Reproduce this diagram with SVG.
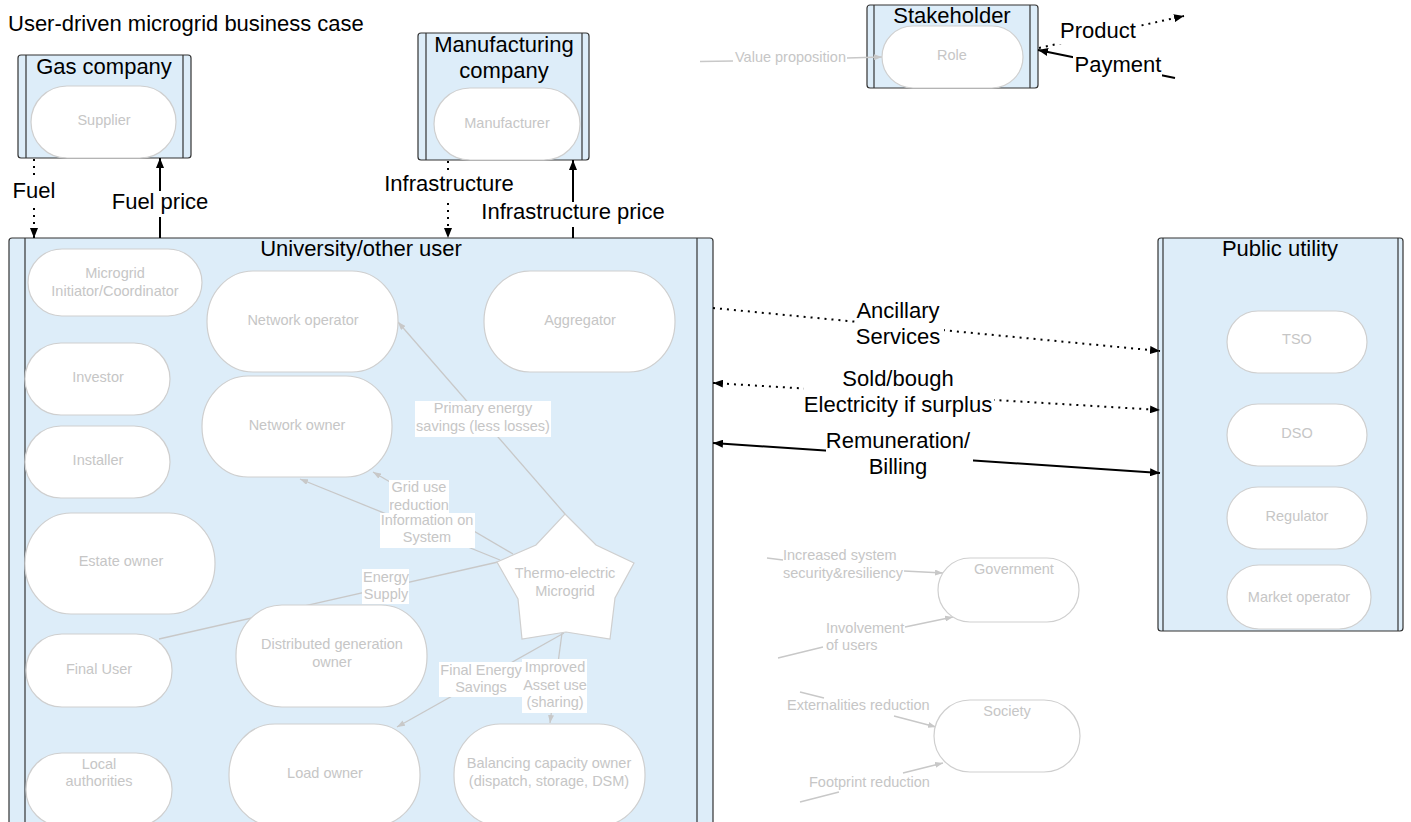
<svg xmlns="http://www.w3.org/2000/svg" width="1411" height="822" viewBox="0 0 1411 822">
<style>
.cont{fill:#ddedf9;stroke:#333;stroke-width:1.2}
.inl{stroke:#333;stroke-width:1.2}
.pill{fill:#fff;stroke:#cfcfcf;stroke-width:1.2}
.big{font-family:"Liberation Sans",Arial,sans-serif;font-size:22px;fill:#000}
.gt{font-family:"Liberation Sans",Arial,sans-serif;font-size:14.5px;fill:#c6c6c6}
.mid{text-anchor:middle}
.sol{stroke:#000;stroke-width:2;fill:none}
.dot{stroke:#000;stroke-width:2;fill:none;stroke-dasharray:2 5}
.gl{stroke:#c8c8c8;stroke-width:1.3;fill:none}
.bg{fill:#fff}
</style>
<defs>
<marker id="ab" viewBox="0 0 10 8" refX="10" refY="4" markerWidth="10" markerHeight="8" markerUnits="userSpaceOnUse" orient="auto-start-reverse"><path d="M0,0 L10,4 L0,8 z" fill="#000"/></marker>
<marker id="ag" viewBox="0 0 8 6" refX="8" refY="3" markerWidth="8" markerHeight="6" markerUnits="userSpaceOnUse" orient="auto"><path d="M0,0 L8,3 L0,6 z" fill="#c8c8c8"/></marker>
</defs>
<rect width="1411" height="822" fill="#fff"/>
<text id="title" class="big" x="8" y="31">User-driven microgrid business case</text>

<g id="gas-company">
<rect class="cont" x="18" y="55" width="173" height="103" rx="3"/>
<line class="inl" x1="26" y1="55" x2="26" y2="158"/><line class="inl" x1="183" y1="55" x2="183" y2="158"/>
<text class="big mid" x="104" y="74">Gas company</text>
</g>
<g id="manufacturing-company">
<rect class="cont" x="418" y="33" width="171" height="127" rx="3"/>
<line class="inl" x1="426" y1="33" x2="426" y2="160"/><line class="inl" x1="582" y1="33" x2="582" y2="160"/>
<text class="big mid" x="504" y="52">Manufacturing</text>
<text class="big mid" x="504" y="78">company</text>
</g>
<g id="stakeholder">
<rect class="cont" x="867" y="5" width="171" height="83" rx="3"/>
<line class="inl" x1="874" y1="5" x2="874" y2="88"/><line class="inl" x1="1030" y1="5" x2="1030" y2="88"/>
<text class="big mid" x="952" y="23">Stakeholder</text>
</g>
<g id="university">
<rect class="cont" x="9" y="238" width="704" height="610" rx="3"/>
<line class="inl" x1="25" y1="238" x2="25" y2="848"/><line class="inl" x1="697" y1="238" x2="697" y2="848"/>
<text class="big mid" x="361" y="256">University/other user</text>
</g>
<g id="public-utility">
<rect class="cont" x="1158" y="238" width="245" height="393" rx="3"/>
<line class="inl" x1="1163" y1="238" x2="1163" y2="631"/><line class="inl" x1="1398" y1="238" x2="1398" y2="631"/>
<text class="big mid" x="1280" y="256">Public utility</text>
</g>

<g id="connectors">
<!-- Fuel -->
<line class="dot" x1="34" y1="159" x2="34" y2="238" marker-end="url(#ab)"/>
<rect class="bg" x="12" y="180" width="45" height="25"/>
<text class="big mid" x="34" y="198">Fuel</text>
<!-- Fuel price -->
<line class="sol" x1="160" y1="238" x2="160" y2="158" marker-end="url(#ab)"/>
<rect class="bg" x="111" y="191" width="99" height="26"/>
<text class="big mid" x="160" y="209">Fuel price</text>
<!-- Infrastructure -->
<line class="dot" x1="448" y1="161" x2="448" y2="238" marker-end="url(#ab)"/>
<rect class="bg" x="383" y="174" width="132" height="25"/>
<text class="big mid" x="449" y="191">Infrastructure</text>
<!-- Infrastructure price -->
<line class="sol" x1="573" y1="238" x2="573" y2="160" marker-end="url(#ab)"/>
<rect class="bg" x="481" y="202" width="186" height="25"/>
<text class="big mid" x="573" y="219">Infrastructure price</text>
<!-- Legend Product / Payment -->
<line class="dot" x1="1039" y1="48" x2="1184" y2="16" marker-end="url(#ab)"/>
<rect class="bg" x="1058" y="20" width="80" height="24"/>
<text class="big mid" x="1098" y="38">Product</text>
<line class="sol" x1="1175" y1="78" x2="1038" y2="50" marker-end="url(#ab)"/>
<rect class="bg" x="1073" y="53" width="89" height="24"/>
<text class="big mid" x="1118" y="72">Payment</text>
<!-- Value proposition -->
<line class="gl" x1="700" y1="61.5" x2="733" y2="61"/>
<line class="gl" x1="847" y1="58" x2="882" y2="57" marker-end="url(#ag)"/>
<text class="gt" x="735" y="62">Value proposition</text>
<!-- Ancillary services -->
<line class="dot" x1="713" y1="308" x2="1160" y2="351" marker-end="url(#ab)"/>
<rect class="bg" x="856" y="298" width="88" height="52"/>
<text class="big mid" x="898" y="318">Ancillary</text>
<text class="big mid" x="898" y="344">Services</text>
<!-- Sold/bough -->
<line class="dot" x1="713" y1="383" x2="1160" y2="410" marker-start="url(#ab)" marker-end="url(#ab)"/>
<rect class="bg" x="804" y="366" width="190" height="52"/>
<text class="big mid" x="898" y="386">Sold/bough</text>
<text class="big mid" x="898" y="412">Electricity if surplus</text>
<!-- Remuneration -->
<line class="sol" x1="713" y1="443" x2="1160" y2="473" marker-start="url(#ab)" marker-end="url(#ab)"/>
<rect class="bg" x="826" y="428" width="147" height="52"/>
<text class="big mid" x="898" y="448">Remuneration/</text>
<text class="big mid" x="898" y="474">Billing</text>
<!-- Inside university (gray) -->
<line class="gl" x1="565" y1="514" x2="398" y2="322" marker-end="url(#ag)"/>
<line class="gl" x1="513" y1="554" x2="373" y2="472" marker-end="url(#ag)"/>
<line class="gl" x1="500" y1="560" x2="300" y2="479" marker-end="url(#ag)"/>
<line class="gl" x1="498" y1="562" x2="159" y2="639"/>
<line class="gl" x1="564" y1="633" x2="397" y2="727" marker-end="url(#ag)"/>
<line class="gl" x1="562" y1="633" x2="550" y2="723" marker-end="url(#ag)"/>
<rect class="bg" x="415" y="401" width="136" height="36"/>
<text class="gt mid" x="483" y="413">Primary energy</text>
<text class="gt mid" x="483" y="431">savings (less losses)</text>
<rect class="bg" x="389" y="480" width="60" height="33"/>
<text class="gt mid" x="419" y="492">Grid use</text>
<text class="gt mid" x="419" y="510">reduction</text>
<rect class="bg" x="380" y="513" width="95" height="35"/>
<text class="gt mid" x="427" y="525">Information on</text>
<text class="gt mid" x="427" y="542">System</text>
<rect class="bg" x="362" y="569" width="47" height="35"/>
<text class="gt mid" x="386" y="582">Energy</text>
<text class="gt mid" x="386" y="599">Supply</text>
<rect class="bg" x="439" y="662" width="84" height="35"/>
<text class="gt mid" x="481" y="675">Final Energy</text>
<text class="gt mid" x="481" y="692">Savings</text>
<rect class="bg" x="522" y="659" width="65" height="54"/>
<text class="gt mid" x="555" y="672">Improved</text>
<text class="gt mid" x="555" y="690">Asset use</text>
<text class="gt mid" x="555" y="707">(sharing)</text>
<!-- Government / Society -->
<line class="gl" x1="767" y1="558" x2="783" y2="560"/>
<line class="gl" x1="904" y1="571" x2="943" y2="573" marker-end="url(#ag)"/>
<text class="gt" x="783" y="560">Increased system</text>
<text class="gt" x="783" y="578">security&amp;resiliency</text>
<line class="gl" x1="778" y1="658" x2="823" y2="647"/>
<line class="gl" x1="905" y1="627" x2="953" y2="617" marker-end="url(#ag)"/>
<text class="gt" x="826" y="633">Involvement</text>
<text class="gt" x="826" y="650">of users</text>
<line class="gl" x1="800" y1="692" x2="824" y2="698"/>
<line class="gl" x1="894" y1="716" x2="936" y2="727" marker-end="url(#ag)"/>
<text class="gt" x="787" y="710">Externalities reduction</text>
<line class="gl" x1="800" y1="802" x2="839" y2="792"/>
<line class="gl" x1="903" y1="773" x2="943" y2="763" marker-end="url(#ag)"/>
<text class="gt" x="809" y="787">Footprint reduction</text>
</g>

<g id="supplier"><rect class="pill" x="31" y="86" width="145" height="72" rx="36"/><text class="gt mid" x="104" y="125">Supplier</text></g>
<g id="manufacturer"><rect class="pill" x="434" y="88" width="146" height="72" rx="36"/><text class="gt mid" x="507" y="128">Manufacturer</text></g>
<g id="role"><rect class="pill" x="882" y="26" width="141" height="62" rx="31"/><text class="gt mid" x="952" y="60">Role</text></g>

<g id="initiator"><rect class="pill" x="28" y="249" width="174" height="67" rx="34"/><text class="gt mid" x="115" y="278">Microgrid</text><text class="gt mid" x="115" y="296">Initiator/Coordinator</text></g>
<g id="investor"><rect class="pill" x="25" y="343" width="145" height="72" rx="36"/><text class="gt mid" x="98" y="382">Investor</text></g>
<g id="installer"><rect class="pill" x="25" y="426" width="145" height="72" rx="36"/><text class="gt mid" x="98" y="465">Installer</text></g>
<g id="estate-owner"><rect class="pill" x="25" y="513" width="190" height="101" rx="46" ry="50"/><text class="gt mid" x="121" y="566">Estate owner</text></g>
<g id="final-user"><rect class="pill" x="26" y="634" width="146" height="73" rx="36"/><text class="gt mid" x="99" y="674">Final User</text></g>
<g id="local-authorities"><rect class="pill" x="26" y="753" width="146" height="73" rx="36"/><text class="gt mid" x="99" y="769">Local</text><text class="gt mid" x="99" y="786">authorities</text></g>
<g id="network-operator"><rect class="pill" x="207" y="271" width="191" height="101" rx="46" ry="50"/><text class="gt mid" x="303" y="325">Network operator</text></g>
<g id="network-owner"><rect class="pill" x="202" y="376" width="190" height="101" rx="46" ry="50"/><text class="gt mid" x="297" y="430">Network owner</text></g>
<g id="aggregator"><rect class="pill" x="484" y="271" width="191" height="101" rx="46" ry="50"/><text class="gt mid" x="580" y="325">Aggregator</text></g>
<g id="dg-owner"><rect class="pill" x="236" y="605" width="191" height="102" rx="46" ry="50"/><text class="gt mid" x="332" y="649">Distributed generation</text><text class="gt mid" x="332" y="667">owner</text></g>
<g id="load-owner"><rect class="pill" x="229" y="724" width="191" height="102" rx="46" ry="50"/><text class="gt mid" x="325" y="778">Load owner</text></g>
<g id="balancing-owner"><rect class="pill" x="454" y="724" width="191" height="102" rx="46" ry="50"/><text class="gt mid" x="549" y="768">Balancing capacity owner</text><text class="gt mid" x="549" y="786">(dispatch, storage, DSM)</text></g>
<g id="microgrid"><polygon class="pill" points="565,514 596,545 634,563 615,598 610,639 566,632 522,639 518,599 497,562 536,545"/><text class="gt mid" x="565" y="578">Thermo-electric</text><text class="gt mid" x="565" y="596">Microgrid</text></g>

<g id="tso"><rect class="pill" x="1227" y="311" width="140" height="62" rx="31"/><text class="gt mid" x="1297" y="344">TSO</text></g>
<g id="dso"><rect class="pill" x="1227" y="404" width="140" height="62" rx="31"/><text class="gt mid" x="1297" y="438">DSO</text></g>
<g id="regulator"><rect class="pill" x="1227" y="487" width="140" height="62" rx="31"/><text class="gt mid" x="1297" y="521">Regulator</text></g>
<g id="market-operator"><rect class="pill" x="1227" y="565" width="144" height="64" rx="32"/><text class="gt mid" x="1299" y="602">Market operator</text></g>

<g id="government"><rect class="pill" x="938" y="558" width="141" height="64" rx="32"/><text class="gt mid" x="1014" y="574">Government</text></g>
<g id="society"><rect class="pill" x="934" y="700" width="146" height="72" rx="36"/><text class="gt mid" x="1007" y="716">Society</text></g>
</svg>
